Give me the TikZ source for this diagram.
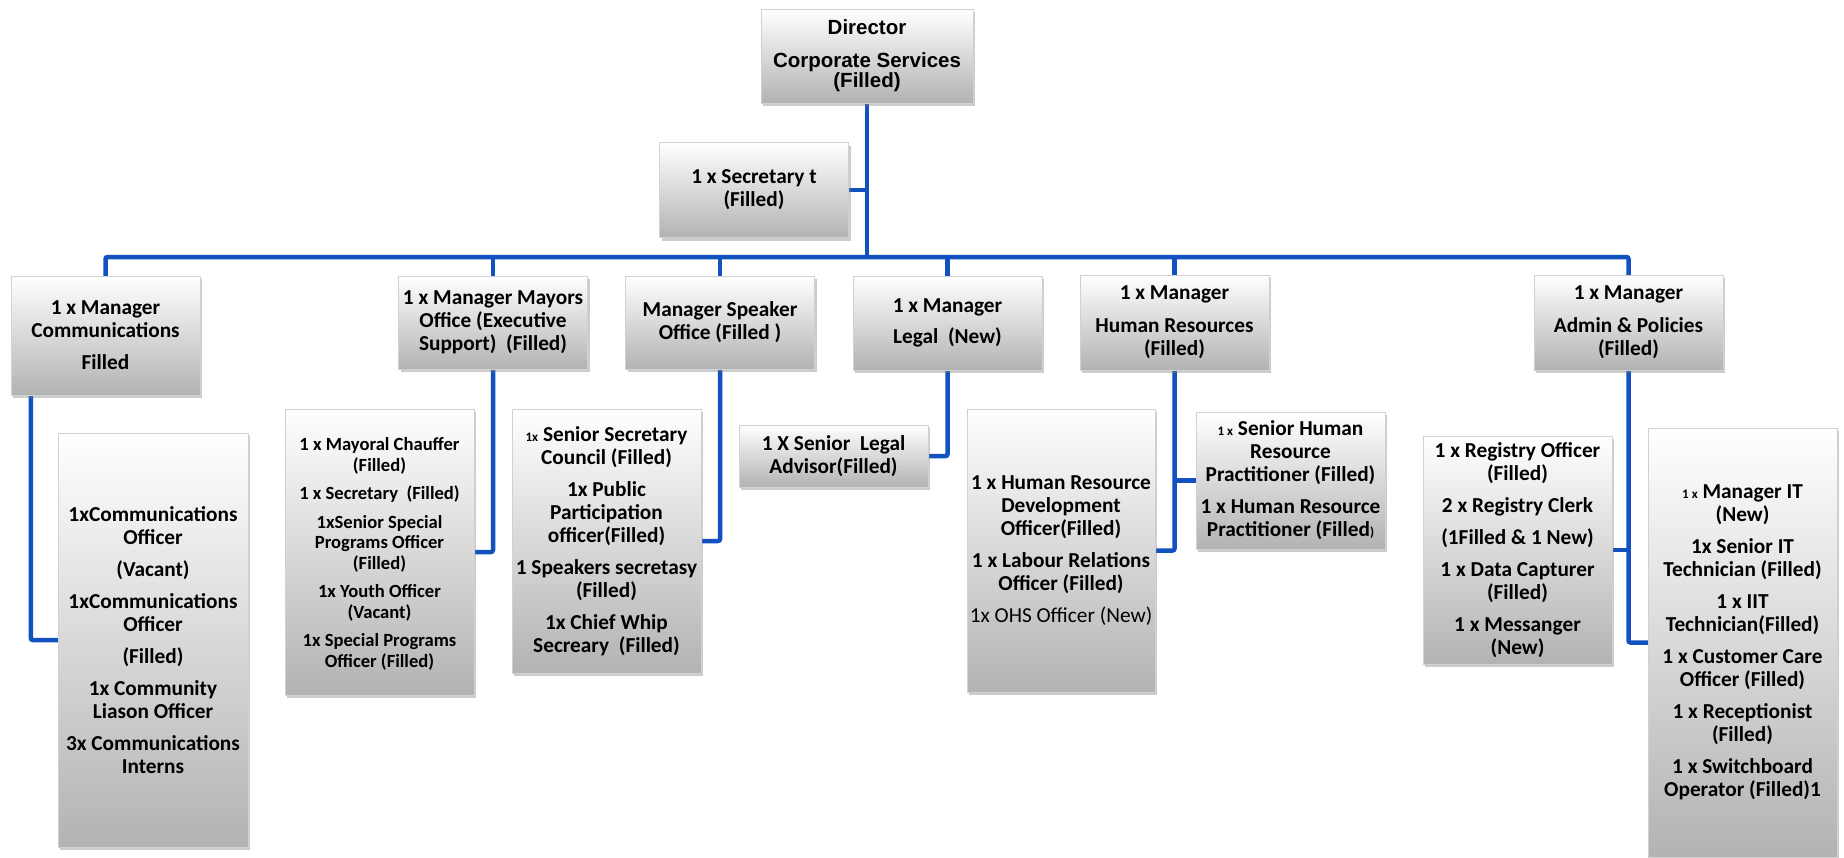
\documentclass[tikz,border=0pt]{standalone}
\usepackage{fontspec}
\setmainfont{Carlito}
\newfontfamily\arialfont{Liberation Sans}
\usetikzlibrary{shadows,backgrounds}
\definecolor{linkblue}{RGB}{18,82,192}
\newcommand{\itemgap}{\\[9pt]}
\newcommand{\smallx}[1]{{\fontsize{13}{13}\selectfont #1}}

\begin{document}
\begin{tikzpicture}[x=1pt,y=-1pt,
    box/.style={draw=black!18, top color=white, bottom color=black!30,
      align=center, minimum width=189pt, inner sep=1pt,
      font=\bfseries\fontsize{21.3}{23}\selectfont,
      drop shadow={shadow xshift=2pt,shadow yshift=-3pt,opacity=.4}},
    link/.style={draw=linkblue, line width=4.5pt, rounded corners=2pt}]
  \useasboundingbox (0,0) rectangle (1844,857);
  % top
  \node[box,minimum width=212pt,minimum height=94pt,
    font=\arialfont\bfseries\fontsize{20.5}{20.5}\selectfont] (dir) at (867,56)
    {Director\\[12pt]Corporate Services\\(Filled)};
  \node[box,minimum height=95pt] (sec) at (754,190) {1 x Secretary t\\(Filled)};
  % managers
  \node[box,minimum height=119pt] (mcom) at (105.5,335.5) {1 x Manager\\Communications\itemgap Filled};
  \node[box,minimum height=93pt] (mmay) at (493,322.5) {1 x Manager Mayors\\Office (Executive\\Support)~~(Filled)};
  \node[box,minimum height=93pt] (mspk) at (720,322.5) {Manager Speaker\\Office (Filled )};
  \node[box,minimum height=94pt] (mleg) at (947.5,323) {1 x Manager\\[8pt]Legal~~(New)};
  \node[box,minimum height=95pt] (mhr) at (1174.5,322.5) {1 x Manager\\[10pt]Human Resources\\(Filled)};
  \node[box,minimum height=95pt] (madm) at (1628.5,322.5) {1 x Manager\\[10pt]Admin \& Policies\\(Filled)};
  % staff
  \node[box,minimum width=190pt,minimum height=414pt] (scom) at (153,640)
    {1xCommunications\\Officer\itemgap (Vacant)\itemgap 1xCommunications\\Officer\itemgap (Filled)\itemgap
     1x Community\\Liason Officer\itemgap 3x Communications\\Interns};
  \node[box,minimum height=286pt,font=\bfseries\fontsize{18.6}{20.5}\selectfont] (smay) at (379.5,552)
    {\\[-4pt]1 x Mayoral Chauffer\\(Filled)\\[8pt]1 x Secretary~~(Filled)\\[8pt]1xSenior Special\\Programs Officer\\(Filled)\\[8pt]
     1x Youth Officer\\(Vacant)\\[8pt]1x Special Programs\\Officer (Filled)};
  \node[box,minimum height=264pt] (sspk) at (606.5,541)
    {\smallx{1x} Senior Secretary\\Council (Filled)\itemgap 1x Public\\Participation\\officer(Filled)\itemgap
     1 Speakers secretasy\\(Filled)\itemgap 1x Chief Whip\\Secreary~~(Filled)};
  \node[box,minimum height=62pt] (sleg) at (833.5,456) {1 X Senior~~Legal\\Advisor(Filled)};
  \node[box,minimum width=188pt,minimum height=283pt] (shr) at (1061,550.5)
    {1 x Human Resource\\Development\\Officer(Filled)\itemgap 1 x Labour Relations\\Officer (Filled)\itemgap
     {\mdseries 1x OHS Officer (New)}};
  \node[box,minimum height=137pt] (sshr) at (1290.5,480.5)
    {\smallx{1 x} Senior Human\\Resource\\Practitioner (Filled)\itemgap 1 x Human Resource\\Practitioner (Filled\smallx{)}};
  \node[box,minimum height=228pt] (sreg) at (1517.5,550)
    {1 x Registry Officer\\(Filled)\itemgap 2 x Registry Clerk\itemgap (1Filled \& 1 New)\itemgap
     1 x Data Capturer\\(Filled)\itemgap 1 x Messanger\\(New)};
  \node[box,minimum height=429pt] (sit) at (1742.5,642.5)
    {\smallx{1 x} Manager IT\\(New)\itemgap 1x Senior IT\\Technician (Filled)\itemgap 1 x IIT\\Technician(Filled)\itemgap
     1 x Customer Care\\Officer (Filled)\itemgap 1 x Receptionist\\(Filled)\itemgap 1 x Switchboard\\Operator (Filled)1};
  % connectors
  \begin{scope}[on background layer]
    \fill[white] (0,0) rectangle (1844,857);
    \coordinate (bus) at (867,257);
    \draw[link] (dir.south) -- (bus);
    \draw[link] (sec.east) -- (sec.east -| dir.south);
    \draw[link] (mcom.north) |- (bus) -| (madm.north);
    \foreach \n in {mmay,mspk,mleg,mhr}
      \draw[link] (\n.north) -- (\n.north |- bus);
    \draw[link] ([xshift=20pt]mcom.south west) |- (scom.west);
    \draw[link] (mmay.south) |- (smay.east);
    \draw[link] (mspk.south) |- (sspk.east);
    \draw[link] (mleg.south) |- (sleg.east);
    \draw[link] (mhr.south) |- (shr.east);
    \draw[link] (mhr.south |- sshr.west) -- (sshr.west);
    \draw[link] (madm.south) |- (sit.west);
    \draw[link] (madm.south |- sreg.east) -- (sreg.east);
  \end{scope}
\end{tikzpicture}
\end{document}
